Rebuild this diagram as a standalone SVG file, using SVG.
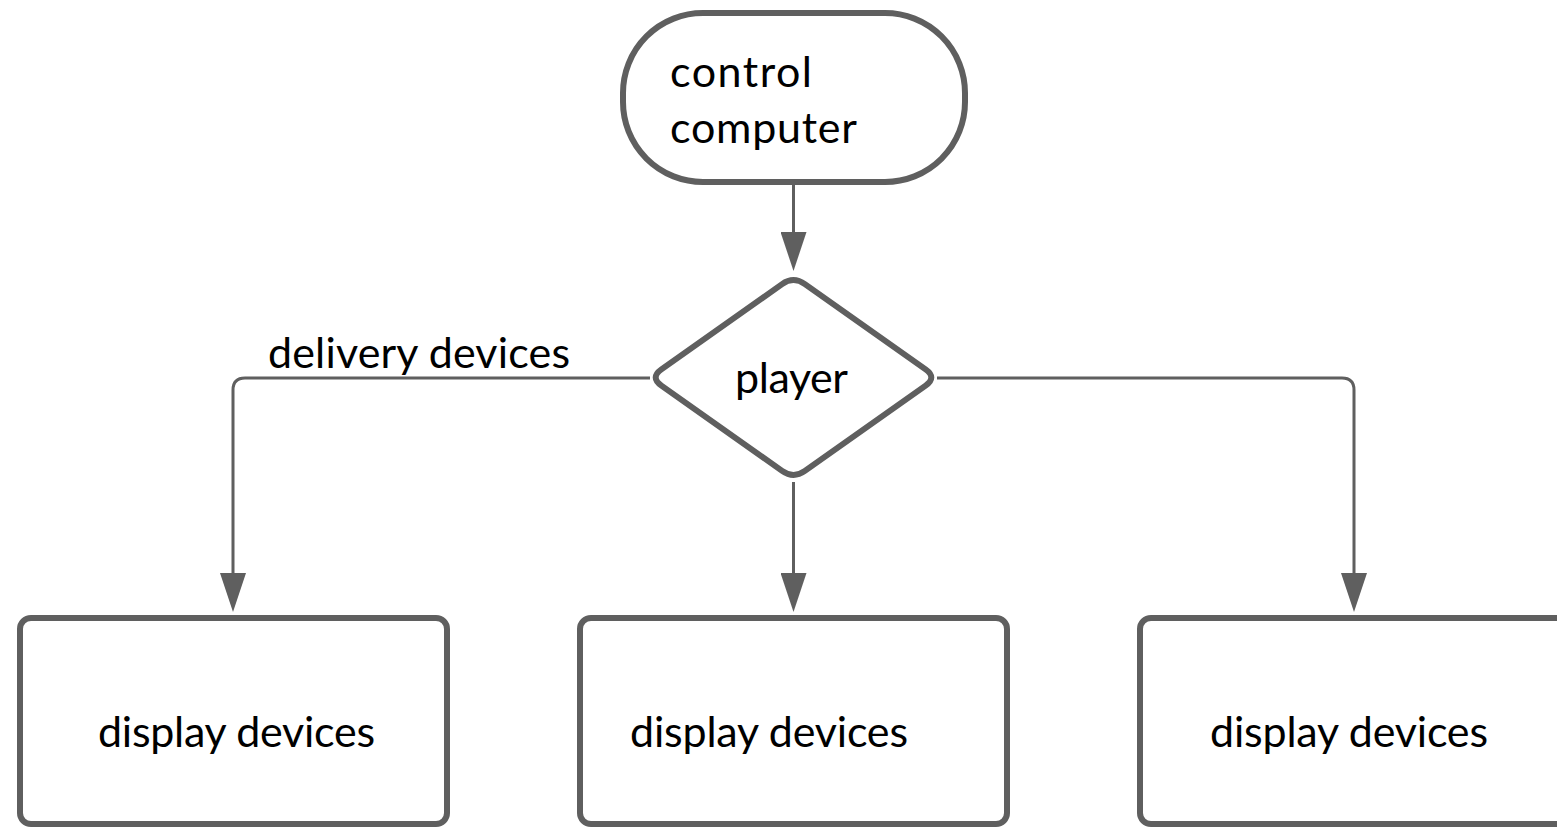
<svg xmlns="http://www.w3.org/2000/svg" width="1557" height="829" viewBox="0 0 1557 829">
<style>
.node{fill:#ffffff;stroke:#5f5f5f;stroke-width:6}
.conn{fill:none;stroke:#5f5f5f;stroke-width:3}
.t{font-family:Lato,"Open Sans","Liberation Sans",sans-serif;font-size:43px;fill:#000000}
</style>
<defs>
<marker id="ah" markerUnits="userSpaceOnUse" markerWidth="40" markerHeight="26" refX="0" refY="13" orient="auto" viewBox="0 0 40 26">
<path d="M0,0 L39,13 L0,26 Z" fill="#5f5f5f"/>
</marker>
</defs>
<rect width="1557" height="829" fill="#ffffff"/>
<g id="connectors">
<path class="conn" d="M793.5,183 V232" marker-end="url(#ah)"/>
<path class="conn" d="M793.5,482 V573" marker-end="url(#ah)"/>
<path class="conn" d="M650,378 H245 Q233,378 233,390 V573" marker-end="url(#ah)"/>
<path class="conn" d="M937,378 H1342 Q1354,378 1354,390 V573" marker-end="url(#ah)"/>
</g>
<g id="control-computer">
<rect class="node" x="623" y="13" width="342" height="169" rx="80" ry="80"/>
<text class="t" x="670" y="87" textLength="142">control</text>
<text class="t" x="670" y="143" textLength="187">computer</text>
</g>
<g id="player">
<path class="node" d="M804.9,284.1 L925.6,369.4 Q937,377.5 925.6,385.6 L804.9,470.9 Q793.5,479 782.1,470.9 L661.4,385.6 Q650,377.5 661.4,369.4 L782.1,284.1 Q793.5,276 804.9,284.1 Z"/>
<text class="t" x="735" y="393" textLength="113">player</text>
</g>
<g id="delivery-label">
<text class="t" x="268" y="368" textLength="302">delivery devices</text>
</g>
<g id="display-1">
<rect class="node" x="20" y="618" width="427" height="206" rx="11" ry="11"/>
<text class="t" x="98" y="747" textLength="277">display devices</text>
</g>
<g id="display-2">
<rect class="node" x="580" y="618" width="427" height="206" rx="11" ry="11"/>
<text class="t" x="630" y="747" textLength="278">display devices</text>
</g>
<g id="display-3">
<rect class="node" x="1140" y="618" width="427" height="206" rx="11" ry="11"/>
<text class="t" x="1210" y="747" textLength="278">display devices</text>
</g>
</svg>
